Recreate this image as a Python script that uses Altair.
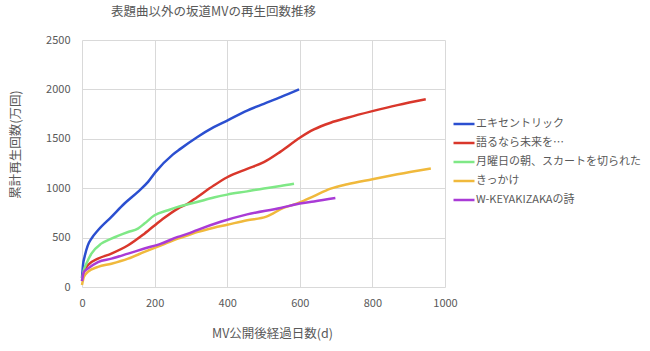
import altair as alt
import pandas as pd

names = ["エキセントリック", "語るなら未来を…", "月曜日の朝、スカートを切られた", "きっかけ", "W-KEYAKIZAKAの詩"]
colors = ["#2b4fd0", "#d9372b", "#7fe886", "#f0b93c", "#a93bd6"]

ecc_days = [0, 3, 7, 16, 26, 44, 81, 117, 154, 182, 203, 250, 271, 317, 363, 400, 455, 501, 547, 598]
ecc_vals = [90, 230, 304, 422, 490, 574, 710, 845, 963, 1064, 1165, 1340, 1398, 1516, 1618, 1685, 1786, 1854, 1921, 2000]

kat_days = [0, 5, 16, 44, 81, 127, 172, 218, 264, 292, 317, 363, 400, 455, 501, 547, 600, 639, 685, 731, 800, 869, 947]
kat_vals = [60, 150, 220, 287, 338, 422, 540, 676, 794, 845, 909, 1027, 1111, 1196, 1263, 1370, 1511, 1595, 1663, 1713, 1780, 1841, 1900]

get_days = [0, 5, 12, 26, 53, 81, 127, 154, 172, 200, 237, 264, 317, 363, 400, 455, 501, 547, 584]
get_vals = [70, 170, 236, 338, 439, 490, 557, 591, 642, 726, 777, 811, 860, 905, 935, 968, 998, 1022, 1045]

kik_days = [0, 5, 16, 44, 81, 127, 172, 218, 264, 292, 317, 363, 400, 455, 508, 555, 600, 639, 685, 731, 800, 869, 961]
kik_vals = [20, 100, 152, 203, 236, 287, 355, 422, 490, 524, 555, 600, 630, 675, 712, 800, 855, 920, 995, 1040, 1091, 1141, 1200]

wk_days = [0, 5, 16, 44, 81, 127, 172, 218, 264, 292, 317, 382, 455, 547, 600, 639, 698]
wk_vals = [60, 150, 186, 253, 287, 338, 389, 439, 507, 540, 576, 660, 735, 800, 845, 865, 900]

series = [(ecc_days, ecc_vals), (kat_days, kat_vals), (get_days, get_vals), (kik_days, kik_vals), (wk_days, wk_vals)]
rows = []
for i, (d, v) in enumerate(series):
    for dd, vv in zip(d, v):
        rows.append({"day": dd, "value": vv, "series": names[i], "idx": i})
df = pd.DataFrame(rows)

FONT = "Noto Sans CJK JP"
GRAY = "#595959"

chart = alt.Chart(df).mark_line(strokeWidth=2.5, interpolate="monotone").encode(
    x=alt.X("day:Q",
            scale=alt.Scale(domain=[0, 1000], nice=False, zero=True),
            axis=alt.Axis(values=[0, 200, 400, 600, 800, 1000], title="MV公開後経過日数(d)",
                          format="d", labelFlush=False, labelOverlap=False,
                          grid=True, gridColor="#d9d9d9", ticks=False, domain=False,
                          labelPadding=10, labelFontSize=11, labelColor=GRAY, labelFont=FONT,
                          titleFont=FONT, titleFontSize=12.5, titleColor=GRAY, titleFontWeight="normal",
                          titleX=190, titleY=46, titleBaseline="middle", titleAlign="center")),
    y=alt.Y("value:Q",
            scale=alt.Scale(domain=[0, 2500], nice=False),
            axis=alt.Axis(values=[0, 500, 1000, 1500, 2000, 2500], title="累計再生回数(万回)",
                          format="d", labelFlush=False, labelOverlap=False,
                          grid=True, gridColor="#d9d9d9", ticks=False, domain=False,
                          labelPadding=12, labelFontSize=11, labelColor=GRAY, labelFont=FONT,
                          titleFont=FONT, titleFontSize=12.5, titleColor=GRAY, titleFontWeight="normal",
                          titleX=-67, titleY=104, titleBaseline="middle", titleAlign="center", titleAngle=-90)),
    color=alt.Color("series:N",
                    scale=alt.Scale(domain=names, range=colors),
                    sort=names,
                    legend=alt.Legend(title=None, orient="none", legendX=370, legendY=72,
                                      symbolType="stroke", symbolSize=441, symbolStrokeWidth=2.5,
                                      labelFont=FONT, labelFontSize=11, labelColor=GRAY,
                                      labelOffset=0, rowPadding=2, labelLimit=300)),
    order=alt.Order("day:Q"),
).properties(
    width=363, height=247,
    title=alt.TitleParams("表題曲以外の坂道MVの再生回数推移", font=FONT, fontSize=12.5, color=GRAY,
                          fontWeight="normal", anchor="middle", dx=-50, offset=16),
    padding={"left": 82, "top": 40, "right": 205, "bottom": 64},
    autosize="none",
    background="white",
).configure_view(stroke=None)

chart.save("out.html", embed_options={"renderer": "svg", "actions": False})
